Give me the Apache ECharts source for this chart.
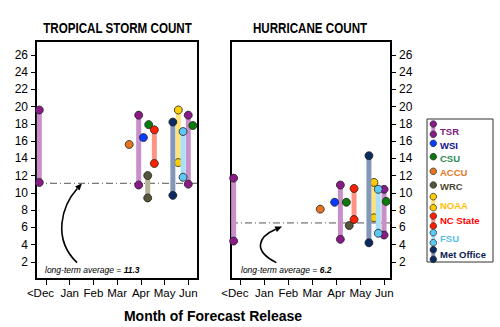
<!DOCTYPE html>
<html><head><meta charset="utf-8">
<script src="https://cdn.jsdelivr.net/npm/echarts@6/dist/echarts.min.js"></script>
<style>html,body{margin:0;padding:0;background:#fff}#c{width:500px;height:327px}</style>
</head><body><div id="c"></div>
<script>
// ---------- data ----------
const monthLabels = ['<Dec', 'Jan', 'Feb', 'Mar', 'Apr', 'May', 'Jun'];
const monthTicks = [0, 1, 2, 3, 4, 5, 6];
const countTicks = [2, 4, 6, 8, 10, 12, 14, 16, 18, 20, 22, 24, 26];
const agencies = ['TSR', 'WSI', 'CSU', 'ACCU', 'WRC', 'NOAA', 'NC State', 'FSU', 'Met Office'];
const panelTitles = ['TROPICAL STORM COUNT', 'HURRICANE COUNT'];

// [month position, low, high] for ranges, [month position, value] for single forecasts
const TS_TSR = [[-0.28, 11.2, 19.6], [3.91, 10.9, 19.0], [6.0, 11.0, 19.0]];
const TS_WSI = [[4.11, 16.4]];
const TS_CSU = [[4.33, 17.9], [6.19, 17.8]];
const TS_ACCU = [[3.51, 15.6]];
const TS_WRC = [[4.29, 9.4, 12.0]];
const TS_NOAA = [[5.58, 13.5, 19.6]];
const TS_NCSTATE = [[4.57, 13.4, 17.3]];
const TS_FSU = [[5.78, 11.8, 17.1]];
const TS_METO = [[5.35, 9.7, 18.2]];

const HU_TSR = [[-0.28, 4.4, 11.7], [4.17, 4.6, 10.9], [5.99, 5.1, 10.4]];
const HU_WSI = [[3.93, 8.9]];
const HU_CSU = [[4.42, 8.9], [6.08, 9.0]];
const HU_ACCU = [[3.33, 8.1]];
const HU_WRC = [[4.54, 6.2]];
const HU_NOAA = [[5.57, 7.1, 11.2]];
const HU_NCSTATE = [[4.74, 6.9, 10.5]];
const HU_FSU = [[5.75, 5.3, 10.4]];
const HU_METO = [[5.36, 4.2, 14.3]];

const averageValues = [11.1, 6.5];
const averageLabels = ['11.3', '6.2'];

// ---------- styles ----------
const FONT = "'Liberation Sans', Arial, Helvetica, sans-serif";
const dotColors = ['#8B1A89', '#0A3CFF', '#0A7A0A', '#E5731F', '#55553A', '#FFCC00', '#FF2000', '#5BC8F5', '#0A2A60'];
const barColors = ['#C98FC9', '#0A3CFF', '#0A7A0A', '#E5731F', '#B3B399', '#FFE27A', '#FF9484', '#A9E0F7', '#8398B8'];
const labelColors = ['#7B1A7B', '#10108C', '#2E8B57', '#E8782A', '#4A4A30', '#FFC000', '#FF0000', '#55C0F0', '#0A2050'];
const xRanges = [[-0.42, 6.41], [-0.39, 6.28]];

const panels = [
  [TS_TSR, TS_WSI, TS_CSU, TS_ACCU, TS_WRC, TS_NOAA, TS_NCSTATE, TS_FSU, TS_METO],
  [HU_TSR, HU_WSI, HU_CSU, HU_ACCU, HU_WRC, HU_NOAA, HU_NCSTATE, HU_FSU, HU_METO]
];

const chart = echarts.init(document.getElementById('c'), null, { renderer: 'svg' });

const grids = [
  { left: 36, right: 302, top: 41, bottom: 48 },
  { left: 231, right: 109, top: 41, bottom: 48 }
].map(g => Object.assign({ show: true, borderColor: '#000', borderWidth: 2, backgroundColor: 'transparent' }, g));

const xAxes = [0, 1].map(i => ({
  type: 'value', gridIndex: i, min: xRanges[i][0], max: xRanges[i][1], position: 'bottom',
  axisLine: { show: true, onZero: false, lineStyle: { color: '#000', width: 2 } }, splitLine: { show: false },
  axisTick: { show: true, customValues: monthTicks, length: 6, inside: false, lineStyle: { color: '#000', width: 1 } },
  axisLabel: {
    customValues: monthTicks,
    formatter: v => { const k = Math.round(v); return k === 0 ? '{d|' + monthLabels[k] + '}' : monthLabels[k]; },
    rich: { d: { fontSize: 11.5, fontFamily: FONT, color: '#000', padding: [0, 11, 0, 0] } },
    color: '#000', fontSize: 11.5, fontFamily: FONT, margin: 8
  }
}));

const yAxes = [0, 1].map(i => ({
  type: 'value', gridIndex: i, min: 0, max: 27.6, position: i === 0 ? 'left' : 'right',
  axisLine: { show: true, onZero: false, lineStyle: { color: '#000', width: 2 } }, splitLine: { show: false },
  axisTick: { show: true, customValues: countTicks, length: 5, inside: false, lineStyle: { color: '#000', width: 1 } },
  axisLabel: { customValues: countTicks, color: '#000', fontSize: 12, fontFamily: FONT, margin: 8 }
}));

const series = [];
panels.forEach((pdata, pi) => {
  series.push({
    type: 'line', xAxisIndex: pi, yAxisIndex: pi, silent: true, animation: false, z: 1,
    symbol: 'none', data: [[xRanges[pi][0], averageValues[pi]], [xRanges[pi][1], averageValues[pi]]],
    lineStyle: { color: '#555', width: 1, type: [7, 3, 1, 3] }
  });
  pdata.forEach((recs, ai) => {
    const singles = [];
    recs.forEach(r => {
      if (r.length === 3) {
        series.push({
          type: 'line', name: agencies[ai], xAxisIndex: pi, yAxisIndex: pi, silent: true, animation: false,
          z: 3 + ai, data: [[r[0], r[1]], [r[0], r[2]]],
          symbol: 'circle', symbolSize: 8, showSymbol: true, showAllSymbol: true,
          lineStyle: { color: barColors[ai], width: 5, cap: 'butt' },
          itemStyle: { color: dotColors[ai], borderColor: '#222', borderWidth: 0.8 }
        });
      } else {
        singles.push([r[0], r[1]]);
      }
    });
    if (singles.length) {
      series.push({
        type: 'scatter', name: agencies[ai], xAxisIndex: pi, yAxisIndex: pi, silent: true, animation: false,
        z: 3 + ai, data: singles, symbol: 'circle', symbolSize: 8,
        itemStyle: { color: dotColors[ai], borderColor: '#222', borderWidth: 0.8, opacity: 1 }
      });
    }
  });
});

chart.setOption({
  animation: false,
  grid: grids, xAxis: xAxes, yAxis: yAxes, series: series
});

// ---------- annotations ----------
const graphics = [];
const titleCenters = [117.5, 310];
panelTitles.forEach((t, i) => {
  graphics.push({
    type: 'text', x: titleCenters[i], y: 28, scaleX: 0.83, silent: true,
    style: { text: t, fontSize: 14, fontWeight: 'bold', fontFamily: FONT, fill: '#000', textAlign: 'center', textVerticalAlign: 'middle' }
  });
});
graphics.push({
  type: 'text', x: 213, y: 316, silent: true,
  style: { text: 'Month of Forecast Release', fontSize: 14, fontWeight: 'bold', fontFamily: FONT, fill: '#000', textAlign: 'center', textVerticalAlign: 'middle' }
});
const avgTextX = [45, 241];
averageLabels.forEach((lab, i) => {
  graphics.push({
    type: 'text', x: avgTextX[i], y: 270, silent: true,
    style: {
      text: '{a|long-term average = }{b|' + lab + '}',
      rich: {
        a: { fontSize: 8.5, fontStyle: 'italic', fontFamily: FONT, fill: '#000' },
        b: { fontSize: 8.5, fontStyle: 'italic', fontWeight: 'bold', fontFamily: FONT, fill: '#000' }
      },
      textAlign: 'left', textVerticalAlign: 'middle'
    }
  });
});
const arrows = [
  { start: [1.31, 1.9], cp1: [0.25, 4.68], cp2: [0.675, 8.52], end: [1.52, averageValues[0]] },
  { start: [1.5, 1.9], cp1: [0.5, 3.28], cp2: [0.75, 4.9], end: [1.74, 6.1] }
];
arrows.forEach((a, i) => {
  const P = p => chart.convertToPixel({ gridIndex: i }, p);
  const s = P(a.start), c1 = P(a.cp1), c2 = P(a.cp2), e = P(a.end);
  const dx = e[0] - c2[0], dy = e[1] - c2[1];
  const len = Math.hypot(dx, dy), ux = dx / len, uy = dy / len;
  const hl = 7, hw = 3;
  const bx = e[0] - ux * hl, by = e[1] - uy * hl;
  graphics.push({
    type: 'bezierCurve', silent: true,
    shape: { x1: s[0], y1: s[1], cpx1: c1[0], cpy1: c1[1], cpx2: c2[0], cpy2: c2[1], x2: bx, y2: by },
    style: { stroke: '#000', lineWidth: 1.6, fill: null }
  });
  graphics.push({
    type: 'polygon', silent: true,
    shape: { points: [[e[0], e[1]], [bx - uy * hw, by + ux * hw], [bx + uy * hw, by - ux * hw]] },
    style: { fill: '#000' }
  });
});
const legendBox = { x: 427, y: 119, w: 66, h: 143 };
const legendDotX = 433.3, legendTextX = 440;
const legendDotY = [[124, 134.3], [143.3], [156.7], [171.3], [185], [196.7, 207.7], [216, 226], [232.7, 242.7], [249.7, 259.3]];
const legendTextY = [131, 145, 158.5, 172, 186.3, 205, 220.5, 238.5, 254];
graphics.push({
  type: 'rect', silent: true, shape: { x: legendBox.x, y: legendBox.y, width: legendBox.w, height: legendBox.h },
  style: { fill: '#fff', stroke: '#333', lineWidth: 1 }
});
agencies.forEach((name, ai) => {
  const ys = legendDotY[ai];
  if (ys.length === 2) {
    graphics.push({
      type: 'line', silent: true, shape: { x1: legendDotX, y1: ys[0], x2: legendDotX, y2: ys[1] },
      style: { stroke: barColors[ai], lineWidth: 4 }
    });
  }
  ys.forEach(y => graphics.push({
    type: 'circle', silent: true, shape: { cx: legendDotX, cy: y, r: 3.3 },
    style: { fill: dotColors[ai], stroke: '#222', lineWidth: 0.7 }
  }));
  graphics.push({
    type: 'text', silent: true, x: legendTextX, y: legendTextY[ai],
    style: { text: name, fontSize: 9.5, fontWeight: 'bold', fontFamily: FONT, fill: labelColors[ai], textAlign: 'left', textVerticalAlign: 'middle' }
  });
});

chart.setOption({ graphic: graphics });
</script>
</body></html>
